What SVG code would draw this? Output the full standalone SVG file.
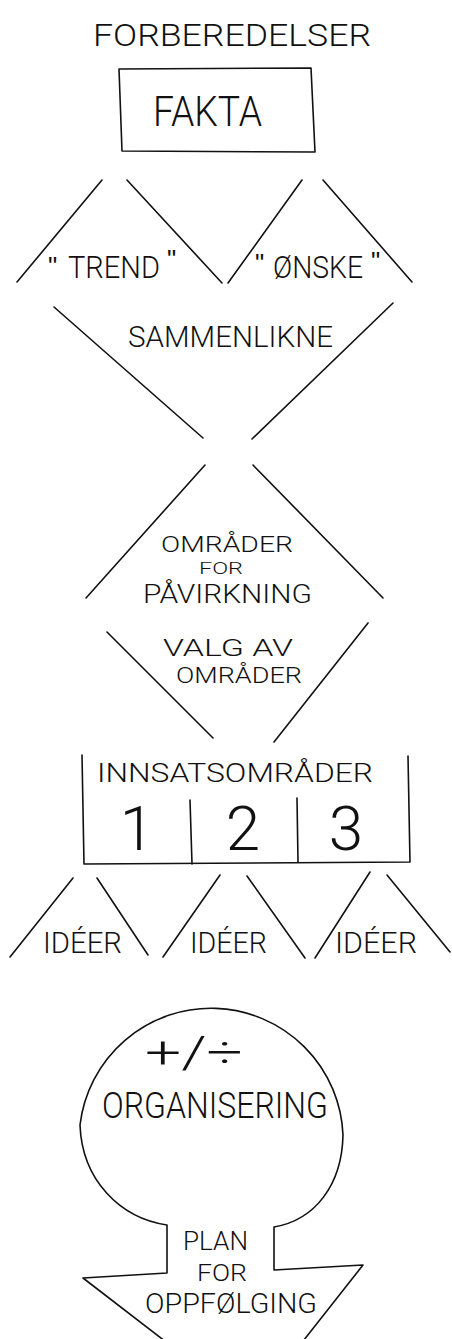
<svg xmlns="http://www.w3.org/2000/svg" width="452" height="1339" viewBox="0 0 452 1339">
  <style>
    .t { font-family: "Roboto", "Liberation Sans", Arial, sans-serif; font-weight: 300; fill: #111; }
    .q { font-family: "Liberation Sans", Arial, sans-serif; fill: #111; }
    .ln { stroke: #111; stroke-width: 1.6; fill: none; stroke-linecap: round; stroke-linejoin: round; }
  </style>
  <rect width="452" height="1339" fill="#fff"/>

  <!-- heading -->
  <g id="forberedelser">
    <text class="t" x="93" y="46" font-size="32" textLength="278" lengthAdjust="spacingAndGlyphs">FORBEREDELSER</text>
  </g>

  <!-- facts box -->
  <g id="fakta">
    <path class="ln" d="M119,69 L311,68 L315,152 L122,151 Z"/>
    <text class="t" x="153" y="126" font-size="42" textLength="109" lengthAdjust="spacingAndGlyphs">FAKTA</text>
  </g>

  <!-- trend / wish branches -->
  <g id="trend">
    <text class="q" x="48" y="275" font-size="26">"</text>
    <text class="t" x="68" y="278" font-size="31" textLength="92" lengthAdjust="spacingAndGlyphs">TREND</text>
    <text class="q" x="167" y="268" font-size="26">"</text>
  </g>
  <g id="onske">
    <text class="q" x="255" y="272" font-size="26">"</text>
    <text class="t" x="273" y="278" font-size="31" textLength="90" lengthAdjust="spacingAndGlyphs">ØNSKE</text>
    <text class="q" x="371" y="270" font-size="26">"</text>
  </g>

  <g id="sammenlikne">
    <text class="t" x="128" y="347" font-size="30" textLength="205" lengthAdjust="spacingAndGlyphs">SAMMENLIKNE</text>
  </g>

  <g id="omrader-pavirkning">
    <text class="t" x="161" y="552" font-size="22" textLength="132" lengthAdjust="spacingAndGlyphs">OMRÅDER</text>
    <text class="t" x="199" y="574" font-size="16" textLength="44" lengthAdjust="spacingAndGlyphs">FOR</text>
    <text class="t" x="143" y="603" font-size="25" textLength="169" lengthAdjust="spacingAndGlyphs">PÅVIRKNING</text>
  </g>

  <g id="valg">
    <text class="t" x="163" y="656" font-size="24" textLength="130" lengthAdjust="spacingAndGlyphs">VALG AV</text>
    <text class="t" x="176" y="683" font-size="22" textLength="126" lengthAdjust="spacingAndGlyphs">OMRÅDER</text>
  </g>

  <!-- focus areas table -->
  <g id="innsatsomrader">
    <path class="ln" d="M82,755 L84,864 L410,862 L408,756"/>
    <path class="ln" d="M190,800 L192,864 M297,798 L298,862"/>
    <text class="t" x="97" y="782" font-size="26" textLength="276" lengthAdjust="spacingAndGlyphs">INNSATSOMRÅDER</text>
    <text class="t" x="137" y="850" font-size="62" text-anchor="middle">1</text>
    <text class="t" x="243" y="850" font-size="62" text-anchor="middle">2</text>
    <text class="t" x="346" y="850" font-size="62" text-anchor="middle">3</text>
  </g>

  <g id="ideer-1">
    <text class="t" x="43" y="953" font-size="29" textLength="79" lengthAdjust="spacingAndGlyphs">IDÉER</text>
  </g>
  <g id="ideer-2">
    <text class="t" x="190" y="953" font-size="29" textLength="77" lengthAdjust="spacingAndGlyphs">IDÉER</text>
  </g>
  <g id="ideer-3">
    <text class="t" x="335" y="953" font-size="29" textLength="82" lengthAdjust="spacingAndGlyphs">IDÉER</text>
  </g>

  <!-- organising bulb with follow-up arrow -->
  <g id="organisering">
    <path class="ln" d="M170,1345 L83,1278 L167,1273 L167,1225 C120,1218 82,1180 80,1125 A132,132 0 0 1 343,1135 C342,1185 315,1220 274,1227 L274,1270 L363,1265 L300,1345"/>
    <text class="t" x="145" y="1068" font-size="44" textLength="98" lengthAdjust="spacingAndGlyphs">+/÷</text>
    <text class="t" x="102" y="1118" font-size="36" textLength="226" lengthAdjust="spacingAndGlyphs">ORGANISERING</text>
  </g>

  <g id="plan">
    <text class="t" x="183" y="1250" font-size="26" textLength="65" lengthAdjust="spacingAndGlyphs">PLAN</text>
    <text class="t" x="197" y="1281" font-size="24" textLength="50" lengthAdjust="spacingAndGlyphs">FOR</text>
    <text class="t" x="145" y="1313" font-size="27" textLength="172" lengthAdjust="spacingAndGlyphs">OPPFØLGING</text>
  </g>

  <!-- funnel strokes between the stages -->
  <g id="connectors">
    <path class="ln" d="M102,180 L17,282 M127,180 L222,283"/>
    <path class="ln" d="M302,180 L228,283 M323,180 L412,282"/>
    <path class="ln" d="M54,307 L203,438 M393,303 L252,439"/>
    <path class="ln" d="M205,465 L86,598 M253,465 L383,598"/>
    <path class="ln" d="M107,632 L213,738 M368,623 L274,742"/>
    <path class="ln" d="M73,878 L10,957 M97,878 L148,955"/>
    <path class="ln" d="M220,875 L163,957 M247,876 L305,958"/>
    <path class="ln" d="M370,872 L315,958 M387,875 L450,952"/>
  </g>
</svg>
